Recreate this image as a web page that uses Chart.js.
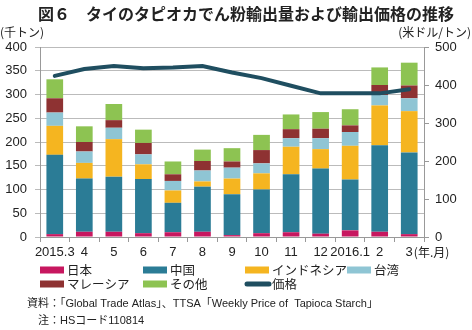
<!DOCTYPE html>
<html>
<head>
<meta charset="utf-8">
<script src="https://cdn.jsdelivr.net/npm/chart.js"></script>
<style>
  html, body { margin: 0; padding: 0; background: #fff; }
  #wrap { width: 472px; height: 330px; position: relative; }
</style>
</head>
<body>
<div id="wrap"><canvas id="chart" width="472" height="330"></canvas></div>
<script>
// 月次 輸出量（千トン）と価格（米ドル/トン）
var months = ['2015.3', '4', '5', '6', '7', '8', '9', '10', '11', '12', '2016.1', '2', '3'];
var japan     = [6, 11, 11, 8, 10, 11, 4, 8, 10, 7, 14, 11, 6];
var china     = [167, 112, 116, 114, 62, 95, 86, 92, 122, 137, 107, 182, 172];
var indonesia = [61, 33, 79, 31, 26, 11, 33, 34, 58, 41, 71, 84, 87];
var taiwan    = [28, 24, 24, 21, 20, 23, 23, 21, 18, 23, 29, 22, 27];
var malaysia  = [30, 20, 16, 24, 14, 20, 13, 28, 19, 20, 14, 21, 27];
var other     = [40, 33, 34, 28, 27, 24, 28, 32, 31, 35, 34, 37, 48];
var price     = [424, 442, 450, 444, 446, 450, 433, 418, 398, 378, 378, 378, 389];

var FONT = "'Liberation Sans', 'Noto Sans CJK JP', sans-serif";
var JP = "'Noto Sans CJK JP', sans-serif";

function bar(label, data, color) {
  return { type: 'bar', label: label, data: data, backgroundColor: color,
           yAxisID: 'y', order: 1, barPercentage: 0.565, categoryPercentage: 1 };
}

// titles, units, legend and notes drawn on the canvas
var extras = {
  id: 'extras',
  afterDraw: function(chart) {
    var ctx = chart.ctx;
    ctx.save();
    ctx.fillStyle = '#222';
    ctx.textBaseline = 'middle';

    ctx.font = 'bold 16px ' + JP;
    ctx.textAlign = 'center';
    ctx.fillText('図６　タイのタピオカでん粉輸出量および輸出価格の推移', 246, 14);

    ctx.font = '12px ' + JP;
    ctx.textAlign = 'left';
    ctx.fillText('(千トン)', 0, 32);
    ctx.textAlign = 'right';
    ctx.fillText('(米ドル/トン)', 471, 32);

    // unit after the last month label
    ctx.textAlign = 'left';
    var lastX = chart.scales.x.getPixelForValue(months.length - 1);
    ctx.font = '13px ' + FONT;
    var w3 = ctx.measureText(months[months.length - 1]).width;
    ctx.font = '12px ' + JP;
    ctx.fillText('(年.月)', lastX + w3 / 2 + 1, 252);

    // legend
    var pos = [[40, 270], [143, 270], [245, 270], [347, 270], [40, 284], [143, 284], [245, 284]];
    ctx.font = '12.5px ' + JP;
    chart.data.datasets.forEach(function(ds, i) {
      var p = pos[i];
      if (ds.type === 'line') {
        ctx.strokeStyle = ds.borderColor;
        ctx.lineWidth = 5;
        ctx.lineCap = 'round';
        ctx.beginPath();
        ctx.moveTo(p[0] + 2, p[1]);
        ctx.lineTo(p[0] + 24, p[1]);
        ctx.stroke();
        ctx.fillText(ds.label, p[0] + 27, p[1]);
      } else {
        ctx.fillStyle = ds.backgroundColor;
        ctx.fillRect(p[0], p[1] - 3.5, 24, 7);
        ctx.fillStyle = '#222';
        ctx.fillText(ds.label, p[0] + 27, p[1]);
      }
    });

    ctx.font = '11px ' + FONT;
    ctx.fillText('資料：「Global Trade Atlas」、TTSA「Weekly Price of  Tapioca Starch」', 27, 304);
    ctx.fillText('注：HSコード110814', 38, 321);
    ctx.restore();
  }
};

var chart = new Chart(document.getElementById('chart').getContext('2d'), {
  data: {
    labels: months,
    datasets: [
      bar('日本', japan, '#c7175f'),
      bar('中国', china, '#2b7c96'),
      bar('インドネシア', indonesia, '#f5b520'),
      bar('台湾', taiwan, '#8fc5d4'),
      bar('マレーシア', malaysia, '#8e3232'),
      bar('その他', other, '#8dc352'),
      { type: 'line', label: '価格', data: price, yAxisID: 'y1', order: 0,
        borderColor: '#1f4e60', borderWidth: 4, pointRadius: 0, tension: 0,
        borderCapStyle: 'round', fill: false }
    ]
  },
  options: {
    responsive: false,
    animation: false,
    layout: { padding: { top: 47, left: 0, right: 0, bottom: 0 } },
    plugins: { legend: { display: false }, tooltip: { enabled: false } },
    scales: {
      x: {
        stacked: true,
        offset: true,
        grid: { offset: true, drawOnChartArea: false, tickLength: 5, color: '#999' },
        border: { color: '#999' },
        ticks: { font: { family: FONT, size: 13 }, color: '#222', padding: 3,
                 maxRotation: 0, autoSkip: false },
        afterFit: function(s) { s.height = 93; }
      },
      y: {
        stacked: true,
        position: 'left',
        min: 0, max: 400,
        ticks: { stepSize: 50, font: { family: FONT, size: 13 }, color: '#222', padding: 8 },
        grid: { color: '#bbb', tickLength: 5 },
        border: { color: '#999' },
        afterFit: function(s) { s.width = 40; }
      },
      y1: {
        position: 'right',
        min: 0, max: 500,
        ticks: { stepSize: 100, font: { family: FONT, size: 13 }, color: '#222', padding: 6 },
        grid: { drawOnChartArea: false, color: '#999', tickLength: 5 },
        border: { color: '#999' },
        afterFit: function(s) { s.width = 48; }
      }
    }
  },
  plugins: [extras]
});
</script>
</body>
</html>
